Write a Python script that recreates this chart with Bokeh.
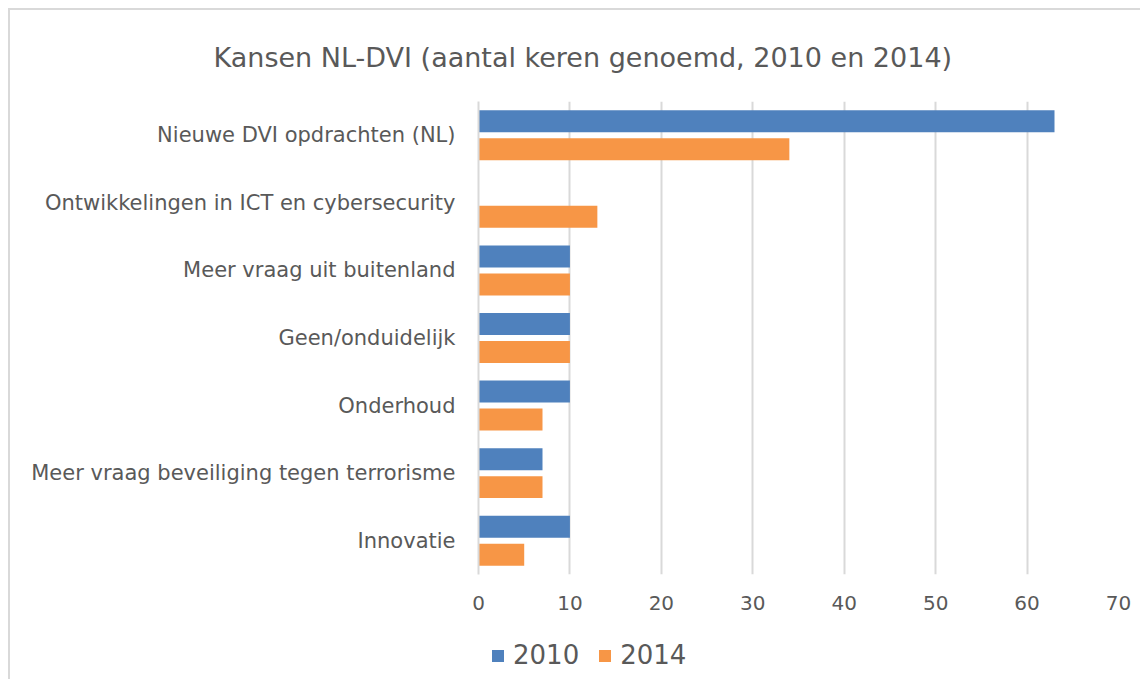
from bokeh.plotting import figure
from bokeh.layouts import column
from bokeh.models import ColumnDataSource, FixedTicker, Range1d, Legend, LegendItem
from bokeh.transform import dodge
from bokeh.embed import file_html
from bokeh.resources import INLINE

categories = [
    "Nieuwe DVI opdrachten (NL)",
    "Ontwikkelingen in ICT en cybersecurity",
    "Meer vraag uit buitenland",
    "Geen/onduidelijk",
    "Onderhoud",
    "Meer vraag beveiliging tegen terrorisme",
    "Innovatie",
]
values_2010 = [63, 0, 10, 10, 10, 7, 10]
values_2014 = [34, 13, 10, 10, 7, 7, 5]
series = ["2010", "2014"]
x_ticks = [0, 10, 20, 30, 40, 50, 60, 70]

FONT = "DejaVu Sans"
TXT = "#595959"
GRID = "#d9d9d9"
C2010 = "#4f81bd"
C2014 = "#f79646"

factors = list(reversed(categories))
src = ColumnDataSource(dict(cat=categories, v2010=values_2010, v2014=values_2014))

p = figure(
    y_range=factors, x_range=Range1d(0, 70),
    frame_width=640, frame_height=473,
    output_backend="svg", toolbar_location=None,
    min_border_left=468, min_border_right=22,
    min_border_top=85, min_border_bottom=45,
    title="Kansen NL-DVI  (aantal keren genoemd, 2010 en 2014)",
)
p.outline_line_color = None

r1 = p.hbar(y=dodge("cat", 0.207, range=p.y_range), right="v2010", left=0, height=0.325,
            source=src, color=C2010, line_color=None)
r2 = p.hbar(y=dodge("cat", -0.207, range=p.y_range), right="v2014", left=0, height=0.325,
            source=src, color=C2014, line_color=None)

p.title.text_font = FONT
p.title.text_font_size = "27px"
p.title.text_font_style = "normal"
p.title.text_color = TXT
p.title.align = "left"
p.title.offset = -265
p.title.standoff = 58

p.xaxis.ticker = FixedTicker(ticks=x_ticks)
p.xaxis.axis_line_color = None
p.xaxis.major_tick_line_color = None
p.xaxis.minor_tick_line_color = None
p.xaxis.major_label_text_font = FONT
p.xaxis.major_label_text_font_size = "20px"
p.xaxis.major_label_text_color = TXT
p.xaxis.major_label_standoff = 15

p.yaxis.axis_line_color = GRID
p.yaxis.axis_line_width = 2
p.yaxis.major_tick_line_color = None
p.yaxis.minor_tick_line_color = None
p.yaxis.major_label_text_font = FONT
p.yaxis.major_label_text_font_size = "21px"
p.yaxis.major_label_text_color = TXT
p.yaxis.major_label_standoff = 17

p.xgrid.grid_line_color = GRID
p.xgrid.grid_line_width = 2
p.ygrid.grid_line_color = None

# legend strip (separate figure so the legend is not clipped)
lg = figure(
    frame_width=1130, frame_height=60, x_range=Range1d(0, 1), y_range=Range1d(0, 1),
    output_backend="svg", toolbar_location=None,
    min_border_left=0, min_border_right=0, min_border_top=0, min_border_bottom=0,
)
lg.axis.visible = False
lg.grid.visible = False
lg.outline_line_color = None
d1 = lg.hbar(y="v2010", right="v2010", left=0, height=0.1, source=src,
             color=C2010, line_color=None, visible=False)
d2 = lg.hbar(y="v2014", right="v2014", left=0, height=0.1, source=src,
             color=C2014, line_color=None, visible=False)

legend = Legend(
    items=[LegendItem(label=series[0], renderers=[d1]), LegendItem(label=series[1], renderers=[d2])],
    orientation="horizontal", location=(480, 9),
    label_text_font=FONT, label_text_font_size="26px", label_text_color=TXT,
    glyph_width=15, glyph_height=15, spacing=18, label_standoff=8,
    border_line_color=None, background_fill_alpha=0, padding=0, margin=0,
    inactive_fill_alpha=0, click_policy="none",
)
lg.add_layout(legend, "center")

layout = column(p, lg, spacing=0)
layout.margin = (8, 0, 0, 8)
layout.styles = {"border-left": "2px solid #d9d9d9", "border-top": "2px solid #d9d9d9"}

open("out.html", "w").write(file_html(layout, INLINE))
